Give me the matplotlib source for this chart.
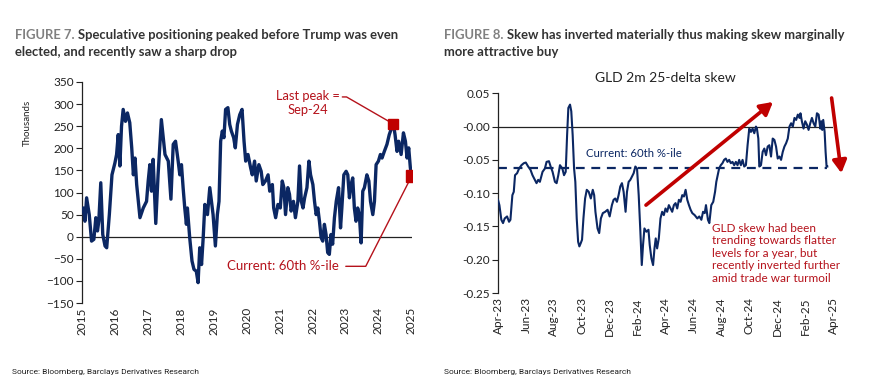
import numpy as np
import matplotlib
matplotlib.use("Agg")
import matplotlib.pyplot as plt
from matplotlib import font_manager

plt.rcParams["font.family"] = ["Lato", "DejaVu Sans"]

NAVY = "#0b2763"
RED = "#b5121b"
GREY = "#808080"
DARK = "#333333"

# Figure 7: speculative positioning (thousands), x in fractional years
pos_year = [
    2015.00, 2015.04, 2015.09, 2015.14, 2015.22, 2015.29, 2015.36, 2015.42, 2015.47, 2015.51,
    2015.57, 2015.63, 2015.70, 2015.75, 2015.83, 2015.91, 2016.00, 2016.05, 2016.10, 2016.15,
    2016.20, 2016.25, 2016.32, 2016.38, 2016.45, 2016.51, 2016.56, 2016.61, 2016.66, 2016.76,
    2016.86, 2016.96, 2017.01, 2017.06, 2017.11, 2017.16, 2017.24, 2017.31, 2017.41, 2017.52,
    2017.62, 2017.70, 2017.77, 2017.84, 2017.92, 2017.97, 2018.02, 2018.07, 2018.12, 2018.17,
    2018.20, 2018.27, 2018.34, 2018.40, 2018.47, 2018.525, 2018.575, 2018.63, 2018.68, 2018.73,
    2018.81, 2018.88, 2018.93, 2018.98, 2019.05, 2019.11, 2019.16, 2019.21, 2019.26, 2019.31,
    2019.36, 2019.43, 2019.485, 2019.535, 2019.605, 2019.655, 2019.72, 2019.79, 2019.86, 2019.92,
    2019.97, 2020.04, 2020.12, 2020.17, 2020.24, 2020.29, 2020.37, 2020.44, 2020.49, 2020.57,
    2020.65, 2020.70, 2020.78, 2020.82, 2020.88, 2020.95, 2021.02, 2021.08, 2021.13, 2021.18,
    2021.25, 2021.30, 2021.35, 2021.42, 2021.48, 2021.555, 2021.605, 2021.66, 2021.71, 2021.76,
    2021.83, 2021.89, 2021.94, 2022.01, 2022.06, 2022.11, 2022.16, 2022.21, 2022.26, 2022.31,
    2022.36, 2022.41, 2022.46, 2022.51, 2022.56, 2022.61, 2022.665, 2022.72, 2022.79, 2022.85,
    2022.89, 2022.95, 2023.02, 2023.07, 2023.12, 2023.17, 2023.22, 2023.27, 2023.32, 2023.37,
    2023.42, 2023.475, 2023.525, 2023.575, 2023.65, 2023.71, 2023.76, 2023.83, 2023.88, 2023.93,
    2024.00, 2024.06, 2024.11, 2024.18, 2024.26, 2024.33, 2024.40, 2024.455, 2024.505, 2024.565,
    2024.615, 2024.69, 2024.76, 2024.82, 2024.87, 2024.92, 2024.97, 2025.01,
]
pos_k = [
    60, 65, 35, 88, 50, -10, -6, 43, 13, 35,
    122, 5, -21, -25, 50, 140, 167, 186, 231, 160,
    250, 288, 261, 280, 258, 201, 140, 178, 118, 43,
    65, 80, 126, 163, 103, 175, 30, 140, 265, 186,
    171, 85, 209, 216, 171, 140, 163, 111, 65, 28,
    65, -2, -55, -74, -78, -104, -25, -63, -2, 73,
    50, 111, 80, 50, -21, 50, 80, 216, 239, 224,
    288, 292, 254, 239, 224, 201, 254, 276, 288, 216,
    171, 186, 156, 140, 171, 126, 163, 148, 118, 126,
    140, 103, 118, 65, 43, 73, 65, 126, 111, 50,
    111, 96, 58, 80, 43, 80, 160, 80, 65, 88,
    111, 171, 140, 118, 80, 50, 65, 35, -2, -10,
    28, 5, -36, -40, 5, -17, 43, 80, 111, 20,
    65, 140, 148, 140, 88, 118, 133, 65, 35, 65,
    50, -14, 103, 111, 140, 126, 80, 50, 80, 163,
    171, 186, 178, 193, 209, 231, 246, 255, 231, 193,
    216, 186, 235, 216, 178, 201, 156, 137,
]
year_ticks = list(range(2015, 2026))

# Figure 8: GLD 2m 25-delta skew, x in months since Apr-23
skew_month = [
    0.0, 0.1, 0.24, 0.36, 0.48, 0.65, 0.79, 0.89, 1.03, 1.13,
    1.22, 1.37, 1.51, 1.68, 1.85, 1.99, 2.16, 2.33, 2.47, 2.64,
    2.76, 2.88, 3.0, 3.19, 3.36, 3.48, 3.65, 3.77, 3.91, 4.08,
    4.2, 4.32, 4.44, 4.61, 4.73, 4.85, 4.95, 5.04, 5.16, 5.25,
    5.35, 5.45, 5.54, 5.64, 5.74, 5.83, 5.93, 6.02, 6.12, 6.24,
    6.36, 6.5, 6.65, 6.79, 6.89, 6.98, 7.13, 7.25, 7.37, 7.51,
    7.68, 7.85, 8.0, 8.16, 8.28, 8.4, 8.52, 8.64, 8.76, 8.88,
    9.0, 9.14, 9.24, 9.36, 9.48, 9.6, 9.72, 9.84, 9.96, 10.08,
    10.2, 10.3, 10.39, 10.49, 10.63, 10.78, 10.87, 10.99, 11.11, 11.21,
    11.3, 11.4, 11.52, 11.64, 11.76, 11.88, 12.0, 12.12, 12.24, 12.36,
    12.48, 12.6, 12.72, 12.84, 12.96, 13.08, 13.2, 13.32, 13.44, 13.56,
    13.68, 13.8, 13.92, 14.09, 14.28, 14.42, 14.57, 14.69, 14.81, 14.9,
    15.04, 15.14, 15.28, 15.42, 15.55, 15.64, 15.72, 15.84, 15.96, 16.08,
    16.2, 16.32, 16.44, 16.56, 16.68, 16.8, 16.92, 17.04, 17.16, 17.28,
    17.4, 17.52, 17.64, 17.76, 17.88, 18.0, 18.12, 18.24, 18.36, 18.48,
    18.55, 18.65, 18.72, 18.84, 18.96, 19.08, 19.2, 19.32, 19.44, 19.56,
    19.68, 19.8, 19.92, 20.04, 20.16, 20.28, 20.4, 20.52, 20.64, 20.76,
    20.88, 21.0, 21.12, 21.24, 21.36, 21.48, 21.6, 21.67, 21.77, 21.89,
    22.01, 22.13, 22.25, 22.37, 22.49, 22.61, 22.73, 22.85, 22.97, 23.09,
    23.16, 23.23, 23.3, 23.4, 23.47, 23.54, 23.59,
]
skew = [
    -0.110, -0.118, -0.140, -0.145, -0.138, -0.135, -0.143, -0.140, -0.103, -0.098,
    -0.073, -0.070, -0.063, -0.058, -0.055, -0.054, -0.060, -0.065, -0.073, -0.080,
    -0.085, -0.080, -0.083, -0.068, -0.063, -0.053, -0.052, -0.060, -0.068, -0.083,
    -0.085, -0.073, -0.058, -0.063, -0.073, -0.068, -0.013, 0.028, 0.033, 0.023,
    -0.013, -0.063, -0.083, -0.138, -0.173, -0.180, -0.175, -0.170, -0.138, -0.108,
    -0.095, -0.098, -0.108, -0.095, -0.103, -0.128, -0.153, -0.160, -0.138, -0.130,
    -0.128, -0.125, -0.135, -0.118, -0.110, -0.108, -0.113, -0.103, -0.090, -0.085,
    -0.098, -0.128, -0.098, -0.083, -0.080, -0.075, -0.070, -0.060, -0.063, -0.103,
    -0.158, -0.208, -0.178, -0.153, -0.158, -0.155, -0.178, -0.198, -0.208, -0.183,
    -0.168, -0.183, -0.168, -0.138, -0.128, -0.133, -0.123, -0.128, -0.118, -0.123,
    -0.128, -0.118, -0.115, -0.123, -0.110, -0.113, -0.103, -0.105, -0.095, -0.110,
    -0.118, -0.125, -0.130, -0.133, -0.138, -0.135, -0.140, -0.128, -0.130, -0.118,
    -0.140, -0.145, -0.118, -0.113, -0.098, -0.083, -0.075, -0.063, -0.058, -0.055,
    -0.050, -0.048, -0.053, -0.050, -0.055, -0.053, -0.058, -0.053, -0.058, -0.050,
    -0.058, -0.050, -0.060, -0.058, -0.028, -0.003, -0.008, -0.003, -0.010, 0.000,
    -0.003, -0.018, -0.060, -0.058, -0.038, -0.033, -0.043, -0.030, -0.028, -0.045,
    -0.018, -0.020, -0.030, -0.048, -0.045, -0.050, -0.038, -0.030, -0.025, -0.018,
    0.000, 0.005, 0.000, 0.013, 0.010, 0.018, 0.013, 0.020, 0.008, -0.003,
    0.008, 0.003, -0.005, 0.005, 0.013, 0.005, 0.000, 0.020, 0.018, -0.003,
    0.008, -0.005, 0.010, -0.008, -0.038, -0.060, -0.060,
]
month_ticks = list(range(0, 25, 2))
month_labels = ["Apr-23", "Jun-23", "Aug-23", "Oct-23", "Dec-23", "Feb-24", "Apr-24",
                "Jun-24", "Aug-24", "Oct-24", "Dec-24", "Feb-25", "Apr-25"]
pct60_level = -0.0615

W, H = 885, 385
fig = plt.figure(figsize=(W / 100, H / 100), dpi=100)

# narrow font for the source lines if available
names = {f.name for f in font_manager.fontManager.ttflist}
src_family = ["Liberation Sans Narrow"] if "Liberation Sans Narrow" in names else ["Roboto", "Lato"]
src_size = 6.9 if "Liberation Sans Narrow" in names else 6.0


def header(x, y, prefix, lines):
    # grey "FIGURE n." followed by dark bold title
    t = fig.text(x / W, 1 - y / H, prefix, color=GREY, fontsize=9.4, fontweight="bold", va="baseline")
    fig.canvas.draw()
    bb = t.get_window_extent()
    fig.text(bb.x1 / W + 0.004, 1 - y / H, lines[0], color=DARK, fontsize=9.4, fontweight="bold", va="baseline")
    fig.text(x / W, 1 - (y + 17) / H, lines[1], color=DARK, fontsize=9.4, fontweight="bold", va="baseline")


header(15, 39, "FIGURE 7.", ["Speculative positioning peaked before Trump was even",
                             "elected, and recently saw a sharp drop"])
header(444, 39, "FIGURE 8.", ["Skew has inverted materially thus making skew marginally",
                              "more attractive buy"])
fig.text(12 / W, 1 - 374 / H, "Source: Bloomberg, Barclays Derivatives Research",
         fontsize=src_size, color="#222222", family=src_family)
fig.text(444 / W, 1 - 374 / H, "Source: Bloomberg, Barclays Derivatives Research",
         fontsize=src_size, color="#222222", family=src_family)


def style_axes(ax):
    for s in ["top", "right", "bottom"]:
        ax.spines[s].set_visible(False)
    ax.spines["left"].set_color("#222222")
    ax.spines["left"].set_linewidth(0.9)
    ax.tick_params(axis="y", direction="out", length=4, width=0.8, labelsize=8.5, colors="#222222", pad=2)
    ax.tick_params(axis="x", length=0, labelsize=8.5, colors="#222222", labelrotation=90, pad=3)
    ax.axhline(0, color="#222222", lw=0.9, zorder=1)


# ---- Figure 7 ----
ax1 = fig.add_axes([82 / W, 1 - 303 / H, 330 / W, 221 / H])
style_axes(ax1)
ax1.plot(pos_year, pos_k, color=NAVY, lw=2.4, solid_joinstyle="round", zorder=3)
ax1.set_xlim(2015, 2025.02)
ax1.set_ylim(-150, 350)
ax1.set_yticks(range(-150, 351, 50))
ax1.set_xticks(year_ticks)
ax1.set_xticklabels([str(y) for y in year_ticks])
fig.text(27 / W, 1 - 123 / H, "Thousands", rotation=90, fontsize=7, ha="center", va="center", color="#222222")

peak_i = int(np.argmax(pos_k[-30:])) + len(pos_k) - 30
ax1.plot(pos_year[peak_i], pos_k[peak_i], "s", color="#c00000", ms=6.5, zorder=4)
ax1.plot(pos_year[-1], pos_k[-1], "s", color="#c00000", ms=9, zorder=4)

ax1.annotate("Last peak =\nSep-24", xy=(pos_year[peak_i], pos_k[peak_i]), xytext=(2021.85, 303),
             ha="center", va="center", fontsize=9.3, color=RED, linespacing=1.25,
             arrowprops=dict(arrowstyle="-", color=RED, lw=1.0, shrinkA=0, shrinkB=4,
                             connectionstyle="angle,angleA=0,angleB=-30,rad=0",
                             relpos=(1.0, 0.72)))
ax1.annotate("Current: 60th %-ile", xy=(pos_year[-1], pos_k[-1]), xytext=(2021.1, -67),
             ha="center", va="center", fontsize=9.5, color=RED,
             arrowprops=dict(arrowstyle="-", color=RED, lw=1.0, shrinkA=3, shrinkB=5,
                             connectionstyle="angle,angleA=0,angleB=63,rad=0",
                             relpos=(1.0, 0.5)))

# ---- Figure 8 ----
ax2 = fig.add_axes([498 / W, 1 - 293 / H, 335 / W, 199.7 / H])
style_axes(ax2)
ax2.plot(skew_month, skew, color=NAVY, lw=1.5, zorder=3)
ax2.plot([0, skew_month[-1]], [pct60_level, pct60_level], color=NAVY, lw=1.6, ls=(0, (4, 3)), zorder=2)
ax2.set_xlim(0, 24)
ax2.set_ylim(-0.25, 0.05)
ax2.set_yticks(np.arange(-0.25, 0.051, 0.05))
ax2.yaxis.set_major_formatter(matplotlib.ticker.FormatStrFormatter("%.2f"))
ax2.set_xticks(month_ticks)
ax2.set_xticklabels(month_labels)
ax2.set_title("GLD 2m 25-delta skew", fontsize=10, color="#222222", pad=8)
ax2.text(6.3, -0.04, "Current: 60th %-ile", fontsize=8.2, color=NAVY, va="center")

ax2.annotate("", xy=(19.7, 0.037), xytext=(10.6, -0.118),
             arrowprops=dict(arrowstyle="-|>,head_length=0.75,head_width=0.42", color="#c00000", lw=2.6,
                             shrinkA=0, shrinkB=0))
ax2.annotate("", xy=(24.6, -0.07), xytext=(23.9, 0.043),
             arrowprops=dict(arrowstyle="-|>,head_length=0.75,head_width=0.42", color="#c00000", lw=2.6,
                             shrinkA=0, shrinkB=0),
             annotation_clip=False)
ax2.text(15.3, -0.145, "GLD skew had been\ntrending towards flatter\nlevels for a year, but\n"
         "recently inverted further\namid trade war turmoil",
         fontsize=8.5, color=RED, va="top", linespacing=1.15)

fig.savefig("out.png", dpi=100)
